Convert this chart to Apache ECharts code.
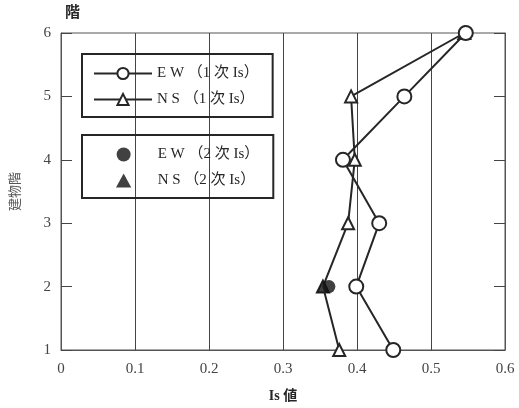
<!DOCTYPE html>
<html>
<head>
<meta charset="utf-8">
<script src="https://cdn.jsdelivr.net/npm/echarts@6/dist/echarts.min.js"></script>
<style>
html,body{margin:0;padding:0;background:#fff;}
#chart{width:519px;height:408px;}
</style>
</head>
<body>
<div id="chart"></div>
<script>
// 階 (floors) and Is values
var floors = [1, 2, 3, 4, 5, 6]
var ew1 = [0.449, 0.399, 0.430, 0.381, 0.464, 0.547]
var ns1 = [0.376, 0.354, 0.388, 0.397, 0.392, 0.545]
var floors2 = [2]
var ew2 = [0.362]
var ns2 = [0.354]
var names = ['E W （1 次 Is）', 'N S （1 次 Is）', 'E W （2 次 Is）', 'N S （2 次 Is）']

function pairs(xs, ys){
  return xs.map(function(v, i){ return [v, ys[i]] })
}

var serif = 'Liberation Serif, "Noto Sans CJK JP", serif'
var ink = '#262626'
var triPath = 'path://M6,0L12,11L0,11Z'

var chart = echarts.init(document.getElementById('chart'))
chart.setOption({
  backgroundColor: '#fff',
  animation: false,
  grid: {left: 61, right: 14, top: 33, bottom: 58, show: true, borderColor: '#555', borderWidth: 1},
  legend: [
    {
      data: [names[0], names[1]], orient: 'vertical', left: 82, top: 54,
      itemWidth: 58, itemHeight: 14, itemGap: 11, padding: [12, 14, 10, 11],
      borderColor: ink, borderWidth: 2,
      textStyle: {fontFamily: serif, fontSize: 15, color: ink}
    },
    {
      data: [names[2], {name: names[3], icon: triPath}], orient: 'vertical', left: 82, top: 135,
      itemWidth: 58, itemHeight: 14, itemGap: 11, padding: [12, 14, 10, 34],
      symbolKeepAspect: true,
      borderColor: ink, borderWidth: 2,
      textStyle: {fontFamily: serif, fontSize: 15, color: ink}
    }
  ],
  xAxis: {
    type: 'value', min: 0, max: 0.6, interval: 0.1,
    name: 'Is 値', nameLocation: 'middle', nameGap: 39,
    nameTextStyle: {fontFamily: serif, fontSize: 14, fontWeight: 'bold', color: ink},
    axisLine: {lineStyle: {color: '#555'}},
    axisTick: {show: false},
    axisLabel: {fontFamily: serif, fontSize: 15, color: '#444', margin: 12},
    splitLine: {show: true, lineStyle: {color: '#444', width: 1}}
  },
  yAxis: [
    {
      type: 'value', min: 1, max: 6, interval: 1,
      name: '建物階', nameLocation: 'middle', nameGap: 40, nameRotate: 90,
      nameTextStyle: {fontFamily: '"Noto Sans CJK JP"', fontSize: 13, color: '#555'},
      axisLine: {show: true, lineStyle: {color: '#555'}},
      axisTick: {show: true, inside: true, length: 11, lineStyle: {color: '#444'}},
      axisLabel: {fontFamily: serif, fontSize: 15, color: '#444', margin: 10},
      splitLine: {show: false}
    },
    {
      type: 'value', min: 1, max: 6, interval: 1, position: 'right',
      name: '階', nameLocation: 'end', nameGap: 0,
      nameTextStyle: {fontFamily: '"Noto Sans CJK JP"', fontSize: 15, fontWeight: 'bold', color: ink, align: 'left', padding: [0, 0, 14, -440]},
      axisLine: {show: true, lineStyle: {color: '#555'}},
      axisTick: {show: true, inside: true, length: 11, lineStyle: {color: '#444'}},
      axisLabel: {show: false},
      splitLine: {show: false}
    }
  ],
  series: [
    {
      name: names[1], type: 'line', data: pairs(ns1, floors),
      symbol: 'triangle', symbolSize: 12,
      lineStyle: {color: ink, width: 2},
      itemStyle: {color: '#fff', borderColor: ink, borderWidth: 2}
    },
    {
      name: names[0], type: 'line', data: pairs(ew1, floors),
      symbol: 'circle', symbolSize: 14,
      lineStyle: {color: ink, width: 2},
      itemStyle: {color: '#fff', borderColor: ink, borderWidth: 2}
    },
    {
      name: names[2], type: 'scatter', data: pairs(ew2, floors2), z: 5,
      symbol: 'circle', symbolSize: 13,
      itemStyle: {color: '#111'}
    },
    {
      name: names[3], type: 'scatter', data: pairs(ns2, floors2), z: 5,
      symbol: 'triangle', symbolSize: 12,
      itemStyle: {color: '#111'}
    }
  ]
})
</script>
</body>
</html>
